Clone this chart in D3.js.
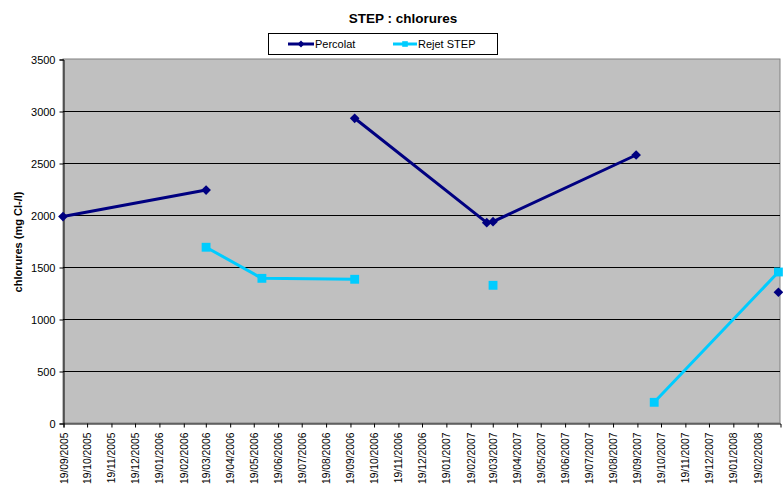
<!DOCTYPE html>
<html><head><meta charset="utf-8">
<script src="https://cdn.jsdelivr.net/npm/d3@7"></script>
<style>
body{margin:0;background:#fff;}
svg{display:block;font-family:"Liberation Sans",Arial,sans-serif;}
</style></head>
<body><svg id="c" width="783" height="493"></svg>
<script>
const chartTitle = "STEP : chlorures";
const yAxisTitle = "chlorures (mg Cl-/l)";
const seriesNames = ["Percolat", "Rejet STEP"];
const dates = ["19/09/2005","20/03/2006","30/05/2006","25/09/2006","12/03/2007","20/03/2007","18/09/2007","11/10/2007","17/03/2008"];
const percolat = [1985, 2240, null, 2930, 1926, 1936, 2577, null, 1257];
const rejet    = [null, 1690, 1391, 1382, null, 1324, null, 199, 1452];
const yTicks = [0, 500, 1000, 1500, 2000, 2500, 3000, 3500];
const xTickLabels = ["19/09/2005","19/10/2005","19/11/2005","19/12/2005","19/01/2006","19/02/2006","19/03/2006","19/04/2006","19/05/2006","19/06/2006","19/07/2006","19/08/2006","19/09/2006","19/10/2006","19/11/2006","19/12/2006","19/01/2007","19/02/2007","19/03/2007","19/04/2007","19/05/2007","19/06/2007","19/07/2007","19/08/2007","19/09/2007","19/10/2007","19/11/2007","19/12/2007","19/01/2008","19/02/2008"];
const xDomainLabels = ["19/09/2005","19/03/2008"];

const parse = d3.timeParse("%d/%m/%Y");
const svg = d3.select("#c");
const L = 63, R = 780, T = 59, B = 423;
const x = d3.scaleTime().domain(xDomainLabels.map(parse)).range([L, R]);
const y = d3.scaleLinear().domain([0, 3500]).range([B, T]);

// plot area
svg.append("rect").attr("x", L).attr("y", T).attr("width", R - L).attr("height", B - T)
  .attr("fill", "#C0C0C0").attr("stroke", "#808080").attr("stroke-width", 1);

// gridlines
svg.append("g").selectAll("line").data(yTicks.filter(v => v > 0 && v < 3500)).join("line")
  .attr("x1", L).attr("x2", R).attr("y1", d => Math.round(y(d)) + 0.5).attr("y2", d => Math.round(y(d)) + 0.5)
  .attr("stroke", "#000").attr("stroke-width", 1);

// y axis
const yAxis = d3.axisLeft(y).tickValues(yTicks).tickSize(4).tickPadding(4).tickFormat(d3.format("d"));
const gy = svg.append("g").attr("transform", `translate(${L + 0.5},0.5)`).call(yAxis);
gy.select(".domain").attr("stroke", "#000");
gy.selectAll("text").attr("font-size", 11).attr("fill", "#000").attr("font-family", "Liberation Sans, Arial, sans-serif");

// x axis
const xAxis = d3.axisBottom(x).tickValues(xTickLabels.map(parse)).tickSize(4).tickFormat(d3.timeFormat("%d/%m/%Y"));
const gx = svg.append("g").attr("transform", `translate(0.5,${B + 0.5})`).call(xAxis);
gx.select(".domain").attr("stroke", "#000");
gx.selectAll("text").attr("font-size", 10.3).attr("fill", "#000").attr("font-family", "Liberation Sans, Arial, sans-serif")
  .attr("transform", "rotate(-90)").attr("text-anchor", "end").attr("x", 0).attr("y", 0)
  .attr("dominant-baseline", "central").attr("dy", 0).attr("dx", -9);

// title
svg.append("text").attr("x", 403).attr("y", 23).attr("text-anchor", "middle")
  .attr("font-size", 13.5).attr("font-weight", "bold").text(chartTitle);

// y title
svg.append("text").attr("transform", "translate(22,242) rotate(-90)").attr("text-anchor", "middle")
  .attr("font-size", 11).attr("font-weight", "bold").text(yAxisTitle);

const data = dates.map((d, i) => ({date: parse(d), p: percolat[i], r: rejet[i]}));

function drawSeries(key, color, shape, size) {
  const line = d3.line().defined(d => d[key] != null).x(d => x(d.date)).y(d => y(d[key]));
  svg.append("path").datum(data).attr("fill", "none").attr("stroke", color).attr("stroke-width", 3)
    .attr("stroke-linejoin", "round").attr("d", line);
  svg.append("g").selectAll("path").data(data.filter(d => d[key] != null)).join("path")
    .attr("transform", d => `translate(${x(d.date)},${y(d[key])})`)
    .attr("d", d3.symbol().type(shape).size(size)).attr("fill", color);
}
const cP = "#000080", cR = "#00CCFF";
drawSeries("p", cP, d3.symbolDiamond2, 60);
drawSeries("r", cR, d3.symbolSquare2, 100);

// legend
const lg = svg.append("g");
lg.append("rect").attr("x", 268.5).attr("y", 33.5).attr("width", 229).attr("height", 21)
  .attr("fill", "#fff").attr("stroke", "#000");
const items = [{name: seriesNames[0], c: cP, s: d3.symbolDiamond2, sz: 30, x1: 288, x2: 314},
               {name: seriesNames[1], c: cR, s: d3.symbolSquare2, sz: 40, x1: 393, x2: 417}];
items.forEach(it => {
  lg.append("line").attr("x1", it.x1).attr("x2", it.x2).attr("y1", 44).attr("y2", 44).attr("stroke", it.c).attr("stroke-width", 3);
  lg.append("path").attr("transform", `translate(${(it.x1 + it.x2) / 2},44)`).attr("d", d3.symbol().type(it.s).size(it.sz)).attr("fill", it.c);
  lg.append("text").attr("x", it.x2 + 1).attr("y", 48).attr("font-size", 11).text(it.name);
});
</script></body></html>
